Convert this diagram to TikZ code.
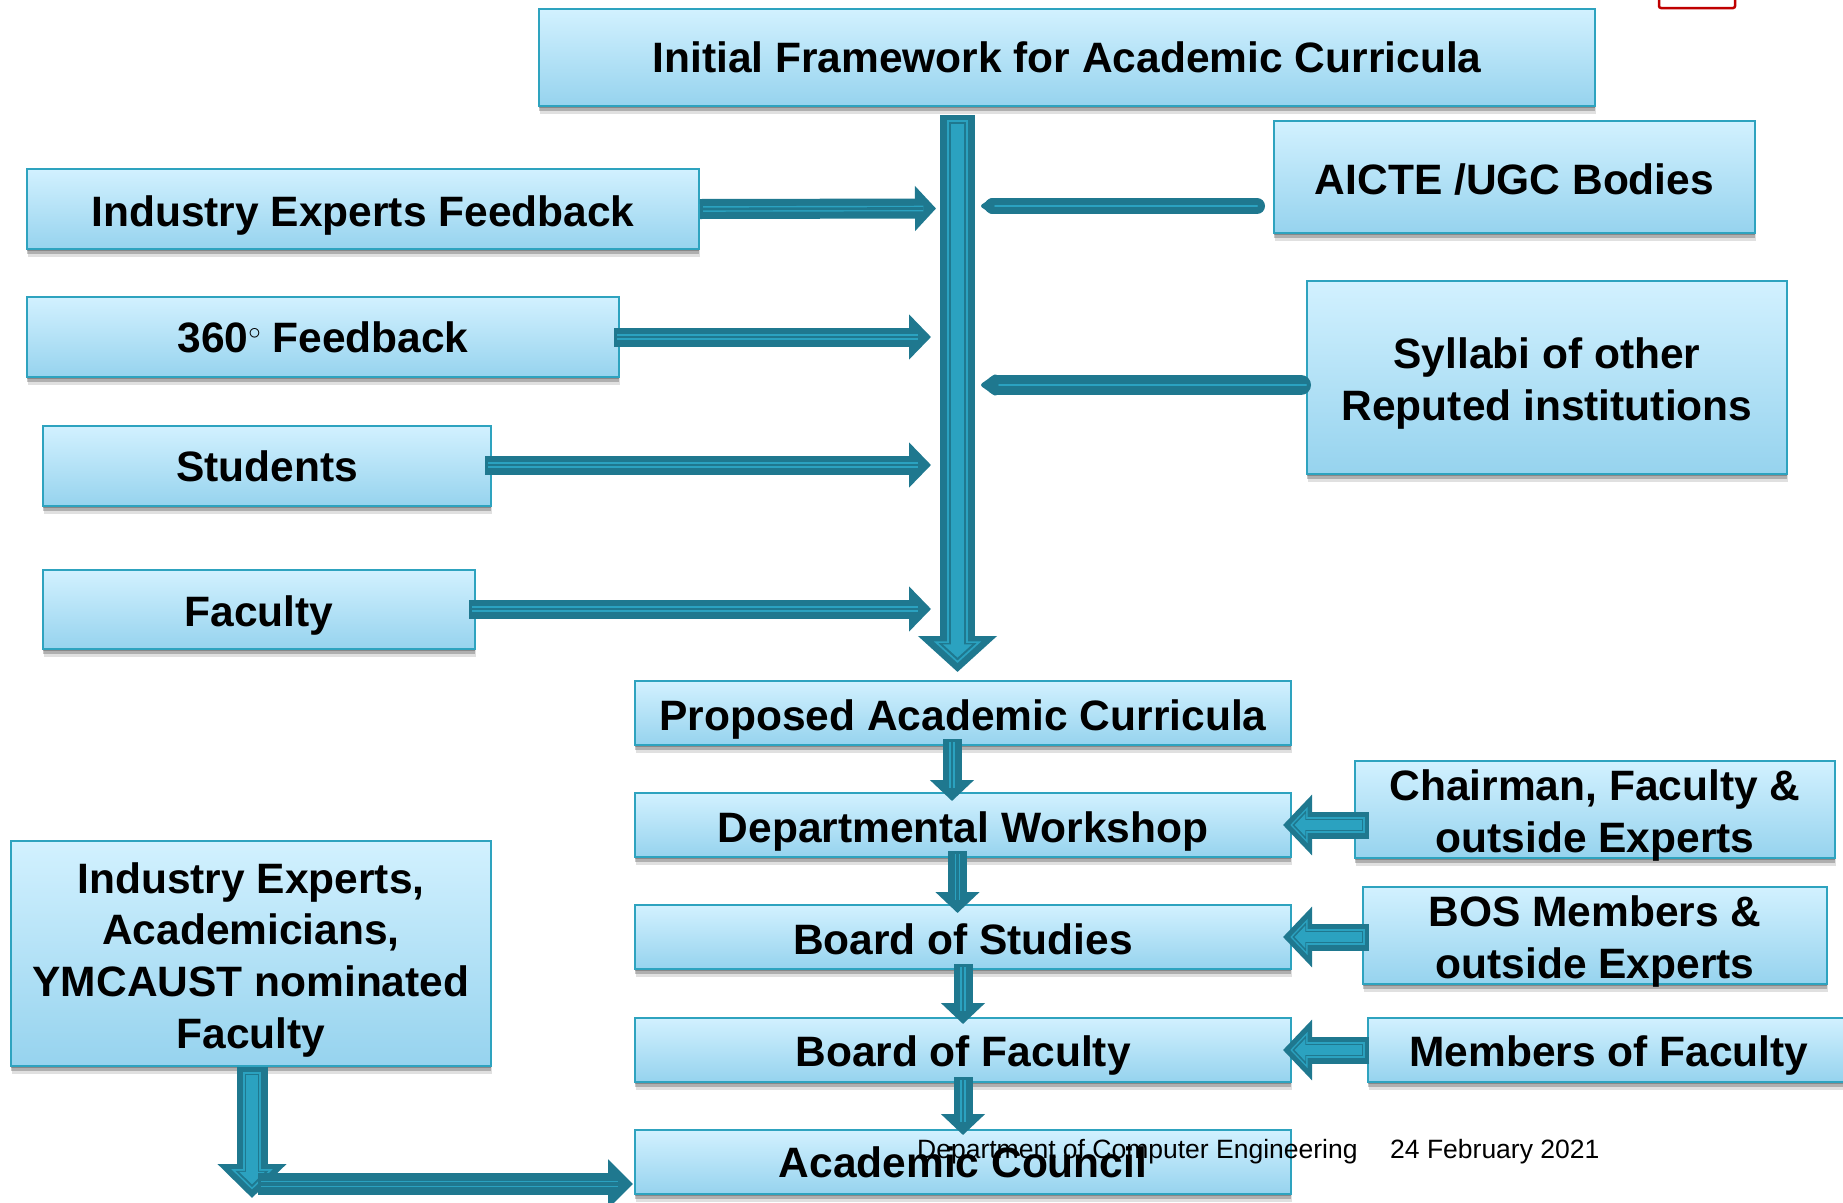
\documentclass[tikz,border=0pt]{standalone}
\usepackage{fontspec}
\setmainfont{Liberation Sans}
\usetikzlibrary{shadows, arrows.meta}
\definecolor{boxtop}{HTML}{D2F1FF}
\definecolor{boxbottom}{HTML}{96D3EE}
\definecolor{boxline}{HTML}{2EA3BF}
\definecolor{arrowdark}{HTML}{1F788F}
\definecolor{arrowlight}{HTML}{2BA2C0}
\newcommand{\toproom}{\rule{0pt}{43pt}}
\newcommand{\toproomsmall}{\rule{0pt}{35pt}}
\tikzstyle{softshadow} = [drop shadow={shadow xshift=0pt, shadow yshift=-2pt, opacity=0.22, fill=black}, drop shadow={shadow xshift=0pt, shadow yshift=-5pt, opacity=0.22, fill=black}, drop shadow={shadow xshift=1pt, shadow yshift=-8pt, opacity=0.12, fill=black}]
\tikzstyle{box} = [rectangle, softshadow, top color=boxtop, bottom color=boxbottom, draw=boxline, line width=2pt, inner ysep=-8pt, text centered, align=center, font=\fontsize{42.5}{51.6}\selectfont\bfseries]
\tikzstyle{footer} = [inner sep=0pt, font=\fontsize{26.5}{32}\selectfont]
\tikzset{
  flowheavy/.style n args={3}{draw=arrowdark, line width=#1, line cap=butt, -{Triangle[length=#3, width=#2]},
    postaction={draw=arrowlight, line width=0.6*#1, -{Triangle[length=0.6*#3, width=0.6*#2]}, shorten >=0.25*#3, shorten <=0.15*#1},
    postaction={draw=arrowdark, line width=0.48*#1, -{Triangle[length=0.48*#3, width=0.48*#2]}, shorten >=0.32*#3, shorten <=0.21*#1},
    postaction={draw=arrowlight, line width=0.37*#1, -{Triangle[length=0.37*#3, width=0.37*#2]}, shorten >=0.4*#3, shorten <=0.27*#1}},
  flowthin/.style n args={3}{draw=arrowdark, line width=#1, -{Triangle[length=#3, width=#2]},
    postaction={draw=arrowlight, line width=0.28*#1, -, shorten >=0.6*#3, shorten <=0.15*#1},
    postaction={draw=arrowdark, line width=0.14*#1, -, shorten >=0.6*#3, shorten <=0.15*#1}},
  flowround/.style n args={3}{draw=arrowdark, line width=#1, line cap=round, -{Triangle[round, length=#3, width=#2, line width=4pt]},
    postaction={draw=arrowlight, line width=2pt, -, shorten >=#3, shorten <=0pt}}
}
\begin{document}
\begin{tikzpicture}[x=1pt, y=-1pt]
    \clip (0,0) rectangle (1843,1202);
    \useasboundingbox (0,0) rectangle (1843,1202);
    \node (logo) [rectangle, rounded corners=2pt, draw=red!75!black, line width=2.5pt, minimum width=76pt, minimum height=20pt] at (1697,-2) {};

    % upper half
    \node (frame) [box, minimum width=1056pt, minimum height=97pt] at (1067,57.5) {Initial Framework for Academic Curricula};
    \node (industry) [box, minimum width=672pt, minimum height=80pt] at (363,209) {\toproom Industry Experts Feedback};
    \node (feedback) [box, minimum width=592pt, minimum height=80pt] at (323,337) {360{\fontsize{24}{24}\selectfont\raisebox{13pt}{$\circ$}} Feedback};
    \node (students) [box, minimum width=448pt, minimum height=80pt] at (267,466) {Students};
    \node (faculty) [box, minimum width=432pt, minimum height=79pt] at (259,609.5) {\toproom Faculty};
    \node (aicte) [box, minimum width=481pt, minimum height=112pt] at (1514.5,177) {\toproomsmall AICTE /UGC Bodies};
    \node (syllabi) [box, minimum width=480pt, minimum height=193pt] at (1547,377.5) {\toproom Syllabi of other\\Reputed institutions};

    % lower half
    \node (proposed) [box, minimum width=656pt, minimum height=64pt] at (963,713) {\toproom Proposed Academic Curricula};
    \node (workshop) [box, minimum width=656pt, minimum height=64pt] at (963,825) {\toproom Departmental Workshop};
    \node (studies) [box, minimum width=656pt, minimum height=64pt] at (963,937) {\toproomsmall Board of Studies};
    \node (boardfac) [box, minimum width=656pt, minimum height=64pt] at (963,1049.5) {\toproom Board of Faculty};
    \node (council) [box, minimum width=656pt, minimum height=64pt] at (963,1162) {Academic Council};
    \node (chairman) [box, minimum width=480pt, minimum height=97pt] at (1595,809.5) {\toproom Chairman, Faculty \&\\outside Experts};
    \node (bosmem) [box, minimum width=464pt, minimum height=97pt] at (1595,935.5) {\toproom BOS Members \&\\outside Experts};
    \node (members) [box, minimum width=482pt, minimum height=64pt] at (1609,1049.5) {\toproom Members of Faculty};
    \node (panel) [box, minimum width=480pt, minimum height=225pt] at (251,953.5) {\toproom Industry Experts,\\Academicians,\\YMCAUST nominated\\Faculty};

    \coordinate (trunktop) at (957.5,115);
    \coordinate (trunkend) at (957.5,672);
    \coordinate (inone) at (936,208.5);
    \coordinate (intwo) at (931,337);
    \coordinate (inthree) at (931,465);
    \coordinate (infour) at (931,609);
    \coordinate (infive) at (981,206);
    \coordinate (insix) at (981,385);
    \coordinate (turn) at (252,1198);
    \coordinate (turnout) at (258,1184);
    \coordinate (councilin) at (633,1184);

    \draw [flowheavy={35pt}{77pt}{36pt}] (trunktop) -- (trunkend);
    \draw [flowthin={20pt}{44pt}{21pt}] (industry.east) -- (inone);
    \draw [flowthin={19pt}{44pt}{22pt}] (614,337) -- (intwo);
    \draw [flowthin={19pt}{44pt}{22pt}] (485,465) -- (inthree);
    \draw [flowthin={19pt}{44pt}{22pt}] (469,609) -- (infour);
    \draw [flowround={16pt}{18pt}{14pt}] (1257,206) -- (infive);
    \draw [flowround={20pt}{24pt}{18pt}, shorten <=5pt] (syllabi.west |- insix) -- (insix);

    \draw [flowthin={19pt}{43pt}{21pt}] (952,739) -- (952,801);
    \draw [flowthin={19pt}{43pt}{21pt}] (957.5,851) -- (957.5,913);
    \draw [flowthin={19pt}{43pt}{21pt}] (963,964) -- (963,1024);
    \draw [flowthin={19pt}{43pt}{21pt}] (963,1077) -- (963,1135);

    \draw [flowheavy={27pt}{59pt}{29pt}] (1369,825) -- (1283,825);
    \draw [flowheavy={27pt}{59pt}{29pt}] (1369,937) -- (1283,937);
    \draw [flowheavy={27pt}{59pt}{29pt}] (1369,1050) -- (1283,1050);

    \draw [flowheavy={31pt}{67pt}{34pt}] (panel.south -| turn) -- (turn);
    \draw [flowthin={22pt}{48pt}{25pt}] (turnout) -- (councilin);

    \node (dept) [footer, anchor=west] at (917,1152) {Department of Computer Engineering};
    \node (date) [footer, anchor=west] at (1390,1152) {24 February 2021};
\end{tikzpicture}
\end{document}
